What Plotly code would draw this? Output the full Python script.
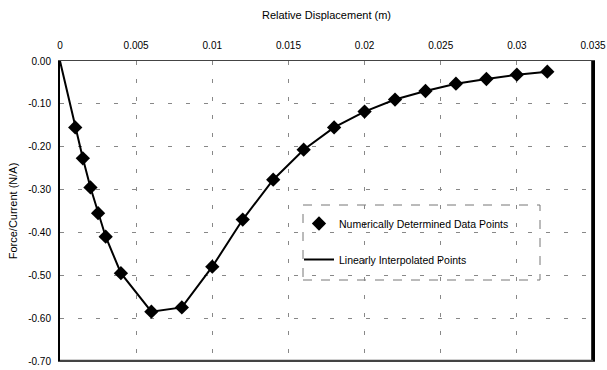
import plotly.graph_objects as go

disp = [0.001, 0.0015, 0.002, 0.0025, 0.003, 0.004, 0.006, 0.008, 0.010, 0.012,
        0.014, 0.016, 0.018, 0.020, 0.022, 0.024, 0.026, 0.028, 0.030, 0.032]
force = [-0.155, -0.227, -0.295, -0.355, -0.41, -0.495, -0.585, -0.575, -0.48, -0.37,
         -0.277, -0.207, -0.155, -0.118, -0.09, -0.07, -0.053, -0.042, -0.032, -0.025]
line_x = [0.0] + disp
line_y = [0.0] + force

x_ticks = [0, 0.005, 0.01, 0.015, 0.02, 0.025, 0.03, 0.035]
x_labels = ["0", "0.005", "0.01", "0.015", "0.02", "0.025", "0.03", "0.035"]
y_ticks = [0, -0.1, -0.2, -0.3, -0.4, -0.5, -0.6, -0.7]
y_labels = ["0.00", "-0.10", "-0.20", "-0.30", "-0.40", "-0.50", "-0.60", "-0.70"]

L, R, T, B = 60, 593, 61, 361
W, H = R - L, B - T

fig = go.Figure()
fig.add_trace(go.Scatter(x=disp, y=force, mode="markers", name="Numerically Determined Data Points",
                         legendgroup="a",
                         marker=dict(symbol="diamond", size=11, color="black")))
fig.add_trace(go.Scatter(x=line_x, y=line_y, mode="lines", name="Linearly Interpolated Points",
                         legendgroup="b",
                         line=dict(color="black", width=2)))

# dashed legend frame
fig.add_shape(type="rect", xref="paper", yref="paper",
              x0=(303 - L) / W, x1=(540 - L) / W,
              y0=(B - 280) / H, y1=(B - 205) / H,
              line=dict(color="#777777", width=1, dash="dash"), fillcolor="white", layer="below")
# right and bottom frame of the plot area
fig.add_shape(type="line", xref="paper", yref="paper", x0=0.9985, x1=0.9985, y0=0, y1=1,
              line=dict(color="black", width=2), layer="above")
fig.add_shape(type="line", xref="paper", yref="paper", x0=0, x1=1, y0=0.002, y1=0.002,
              line=dict(color="#444444", width=1.5), layer="above")

fig.update_layout(
    width=607, height=370,
    margin=dict(l=L, r=607 - R, t=T, b=370 - B, autoexpand=False),
    paper_bgcolor="white", plot_bgcolor="white",
    font=dict(family="Liberation Sans, Arial", size=10, color="black"),
    showlegend=True,
    legend=dict(x=(299 - L) / W, y=(B - 209) / H, xanchor="left", yanchor="top",
                bgcolor="rgba(0,0,0,0)", borderwidth=0, font=dict(size=10.5),
                traceorder="grouped", tracegroupgap=17, itemwidth=30),
    xaxis=dict(side="top", range=[0, 0.035], tickvals=x_ticks, ticktext=x_labels,
               title=dict(text="Relative Displacement (m)", font=dict(size=11), standoff=18),
               showline=True, linecolor="#444444", linewidth=1, mirror=True,
               showgrid=True, gridcolor="#888888", gridwidth=1, griddash="4px,14px",
               zeroline=False, ticks="outside", ticklen=7, tickcolor="white", automargin=False),
    yaxis=dict(range=[-0.70, 0.0], tickvals=y_ticks, ticktext=y_labels,
               title=dict(text="Force/Current (N/A)", font=dict(size=11), standoff=8),
               showline=True, linecolor="black", linewidth=2, mirror=True,
               showgrid=True, gridcolor="#888888", gridwidth=1, griddash="4px,14px",
               zeroline=False, ticks="outside", ticklen=5, tickcolor="white", automargin=False),
)

fig.write_html("out.html", config={"displayModeBar": False},
               post_script="document.body.style.margin='0';document.body.style.overflow='hidden';")
